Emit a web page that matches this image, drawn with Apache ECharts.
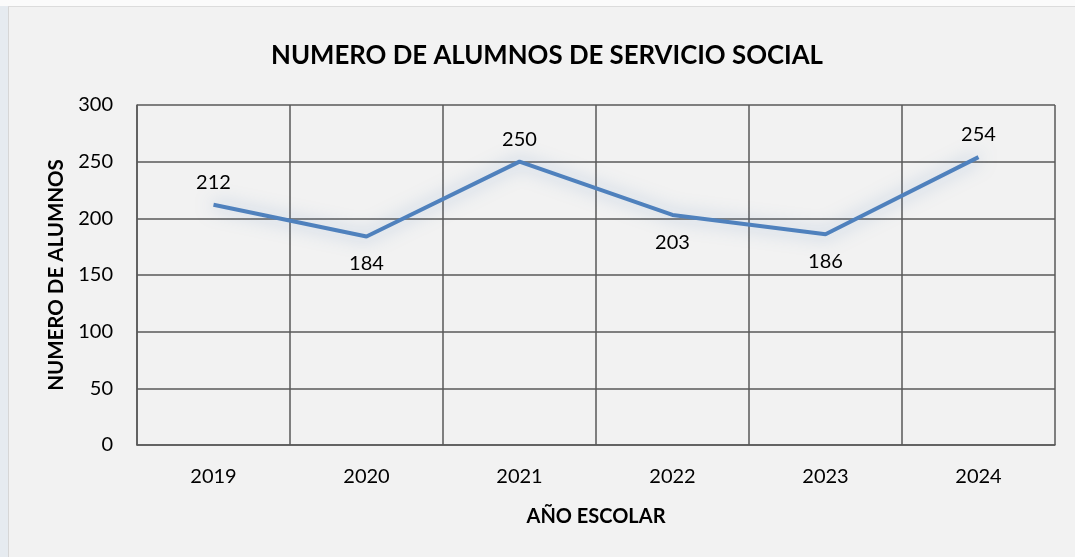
<!DOCTYPE html>
<html>
<head>
<meta charset="utf-8">
<script src="https://cdn.jsdelivr.net/npm/echarts@6/dist/echarts.min.js"></script>
<style>
  html, body { margin: 0; padding: 0; width: 1075px; height: 557px; overflow: hidden; background: #e6ebf0; }
  #top { position: absolute; left: 0; top: 0; width: 1075px; height: 6px; background: #fbfbfb; }
  #frame { position: absolute; left: 8px; top: 6px; width: 1067px; height: 551px; background: #f2f2f2; border-left: 1px solid #d6d6d6; border-top: 1px solid #dcdcdc; box-sizing: border-box; }
  #chart { position: absolute; left: 0; top: 0; width: 1075px; height: 557px; }
</style>
</head>
<body>
<div id="top"></div>
<div id="frame"></div>
<div id="chart"></div>
<script>
const categories = ['2019', '2020', '2021', '2022', '2023', '2024'];
const values = [212, 184, 250, 203, 186, 254];
const labelPositions = ['top', 'bottom', 'top', 'bottom', 'bottom', 'top'];
const yTicks = { min: 0, max: 300, interval: 50 };

const chart = echarts.init(document.getElementById('chart'), null, { renderer: 'canvas' });
const font = 'Lato, "Open Sans", sans-serif';
chart.setOption({
  backgroundColor: 'transparent',
  animation: false,
  title: {
    text: 'NUMERO DE ALUMNOS DE SERVICIO SOCIAL',
    left: 266,
    top: 38,
    textStyle: { fontFamily: font, fontWeight: 'bold', fontSize: 25.8, color: '#000' }
  },
  grid: { left: 137, right: 20, top: 105, bottom: 112, containLabel: false },
  xAxis: {
    type: 'category',
    data: categories,
    boundaryGap: true,
    name: 'AÑO ESCOLAR',
    nameLocation: 'middle',
    nameGap: 62,
    nameTextStyle: { fontFamily: font, fontWeight: 'bold', fontSize: 20, color: '#000' },
    axisLine: { show: true, lineStyle: { color: '#595959', width: 1.5 } },
    axisTick: { show: false },
    splitLine: { show: true, lineStyle: { color: '#595959', width: 1.5 } },
    axisLabel: { fontFamily: font, fontSize: 20, color: '#000', margin: 22 }
  },
  yAxis: {
    type: 'value',
    min: yTicks.min, max: yTicks.max, interval: yTicks.interval,
    name: 'NUMERO DE ALUMNOS',
    nameLocation: 'middle',
    nameGap: 66,
    nameRotate: 90,
    nameTextStyle: { fontFamily: font, fontWeight: 'bold', fontSize: 20.5, color: '#000' },
    axisLine: { show: true, lineStyle: { color: '#595959', width: 1.5 } },
    axisTick: { show: false },
    splitLine: { show: true, lineStyle: { color: '#595959', width: 1.5 } },
    axisLabel: { fontFamily: font, fontSize: 20, color: '#000', margin: 24 }
  },
  series: [{
    type: 'line',
    data: values.map((v, i) => ({
      value: v,
      label: { position: labelPositions[i], distance: labelPositions[i] === 'top' ? 12 : 17 }
    })),
    symbol: 'circle',
    symbolSize: 1,
    showSymbol: true,
    itemStyle: { color: 'rgba(0,0,0,0)' },
    lineStyle: { color: '#4f81bd', width: 4, shadowColor: 'rgba(79,129,189,0.5)', shadowBlur: 18 },
    label: { show: true, fontFamily: font, fontSize: 20, color: '#000' }
  }]
});
</script>
</body>
</html>
